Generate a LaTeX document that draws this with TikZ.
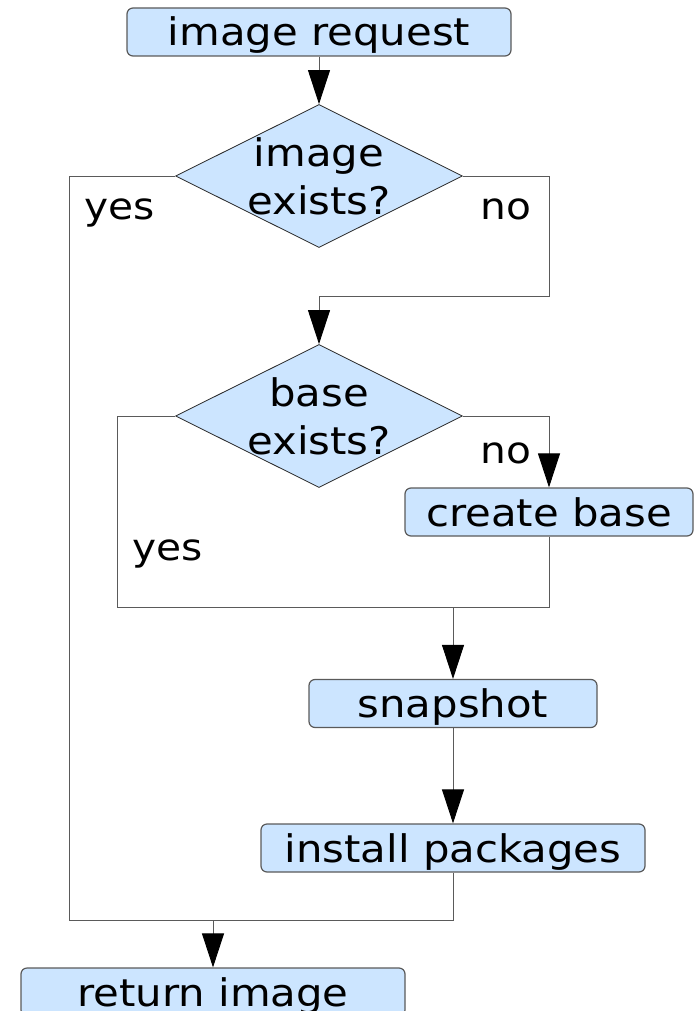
\documentclass[tikz,border=0pt]{standalone}
\usepackage{fontspec}
\setmainfont{DejaVu Sans}[FakeStretch=1.1]
\usetikzlibrary{shapes.geometric,arrows.meta}
\definecolor{boxblue}{RGB}{204,229,255}
\definecolor{linegray}{RGB}{90,90,90}

\begin{document}
\begin{tikzpicture}[x=1pt,y=1pt,
	procbox/.style={draw=linegray, line width=1.2pt, fill=boxblue, rounded corners=6pt,
		minimum height=48pt, inner sep=0pt, text height=36pt, text depth=8pt,
		font=\fontsize{38}{48}\selectfont},
	ask/.style={diamond, draw=black!85, line width=0.8pt, fill=boxblue,
		minimum width=287pt, minimum height=143pt, inner sep=0pt},
	asktext/.style={align=center, inner sep=0pt, font=\fontsize{38}{48}\selectfont},
	answer/.style={anchor=base, inner sep=0pt, font=\fontsize{37}{44}\selectfont},
	link/.style={draw=linegray, line width=0.9pt},
	flow/.style={link, -{Triangle[length=34pt,width=22pt,color=black]}}]

	\useasboundingbox (0,0) rectangle (697,-1011);
	\clip (0,0) rectangle (697,-1011);

	% boxes and questions
	\node[procbox, minimum width=384pt] (request) at (319,-32) {image request};
	\node[ask] (image) at (319,-176) {};
	\node[asktext] (imagetxt) at (image) {image\\exists?};
	\node[ask] (base) at (319,-416) {};
	\node[asktext] (basetxt) at (base) {base\\exists?};
	\node[procbox, minimum width=288pt] (create) at (549,-512) {create base};
	\node[procbox, minimum width=288pt] (snapshot) at (453,-703.5) {snapshot};
	\node[procbox, minimum width=384pt] (install) at (453,-848) {install packages};
	\node[procbox, minimum width=384pt] (return) at (213,-992) {return image};

	% answers
	\node[answer] (yesimage) at (120,-219) {yes};
	\node[answer] (noimage) at (506,-219) {no};
	\node[answer] (nobase) at (506,-463) {no};
	\node[answer] (yesbase) at (168,-560) {yes};

	% corners of the connectors
	\coordinate (noturn) at (549,-296);
	\coordinate (yesturn) at (69,-920);
	\coordinate (merge) at (213,-920);
	\coordinate (baseturn) at (117,-607);
	\coordinate (gather) at (453,-607);

	\draw[flow] (request.south) -- (image.north);
	\draw[flow] (image.east) -| (noturn) -| (base.north);
	\draw[link] (image.west) -| (yesturn) -- (merge);
	\draw[flow] (base.east) -| (create.north);
	\draw[link] (base.west) -| (baseturn) -- (gather);
	\draw[link] (create.south) |- (gather);
	\draw[flow] (gather) -- (snapshot.north);
	\draw[flow] (snapshot.south) -- (install.north);
	\draw[link] (install.south) |- (merge);
	\draw[flow] (merge) -- (return.north);
\end{tikzpicture}
\end{document}
